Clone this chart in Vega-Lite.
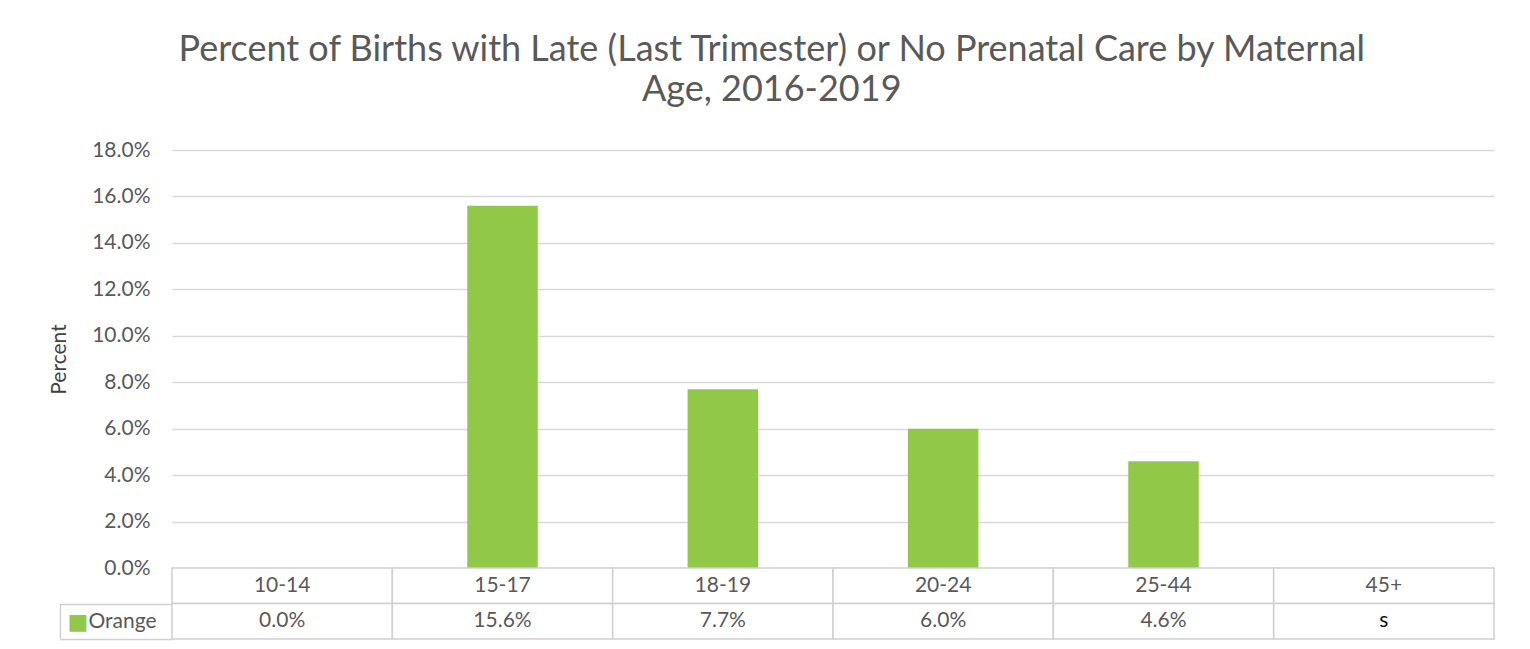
{
  "$schema": "https://vega.github.io/schema/vega-lite/v6.json",
  "padding": {"left": 48, "top": 32, "right": 36, "bottom": 8},
  "spacing": 0,
  "bounds": "flush",
  "background": "white",
  "title": {
    "text": ["Percent of Births with Late (Last Trimester) or No Prenatal Care by Maternal", "Age, 2016-2019"],
    "font": "Lato",
    "fontSize": 36,
    "fontWeight": "normal",
    "color": "#595959",
    "anchor": "middle",
    "frame": "bounds",
    "lineHeight": 40,
    "offset": 30
  },
  "datasets": {
    "ages": [
      {"age": "10-14", "pct": 0.0, "label": "0.0%"},
      {"age": "15-17", "pct": 0.156, "label": "15.6%"},
      {"age": "18-19", "pct": 0.077, "label": "7.7%"},
      {"age": "20-24", "pct": 0.060, "label": "6.0%"},
      {"age": "25-44", "pct": 0.046, "label": "4.6%"},
      {"age": "45+", "pct": null, "label": "s"}
    ]
  },
  "vconcat": [
    {
      "width": 1322,
      "height": 418,
      "data": {"name": "ages"},
      "mark": {"type": "bar", "color": "#92c848", "width": {"band": 0.32}},
      "encoding": {
        "x": {
          "field": "age", "type": "nominal", "sort": null,
          "scale": {"domain": ["10-14", "15-17", "18-19", "20-24", "25-44", "45+"], "paddingInner": 0, "paddingOuter": 0},
          "axis": null
        },
        "y": {
          "field": "pct", "type": "quantitative",
          "scale": {"domain": [0, 0.18], "nice": false},
          "axis": {
            "values": [0, 0.02, 0.04, 0.06, 0.08, 0.1, 0.12, 0.14, 0.16, 0.18],
            "format": ".1%",
            "title": "Percent",
            "titleFont": "Lato",
            "titleFontSize": 21,
            "titleFontWeight": "normal",
            "titleColor": "#404040",
            "titlePadding": 22,
            "labelFont": "Lato",
            "labelFontSize": 21,
            "labelColor": "#595959",
            "labelPadding": 22,
            "domain": false,
            "ticks": false,
            "grid": true,
            "gridColor": "#d9d9d9",
            "gridWidth": 1.5
          }
        }
      }
    },
    {
      "width": 1322,
      "height": 71,
      "data": {"name": "ages"},
      "transform": [{"fold": ["age", "label"], "as": ["row", "text"]}],
      "resolve": {"scale": {"y": "independent"}, "axis": {"y": "independent"}},
      "layer": [
        {
          "mark": {"type": "rect", "fill": "white", "stroke": "#d0d0d0", "strokeWidth": 1.5},
          "encoding": {
            "x": {
              "field": "age", "type": "nominal", "sort": null,
              "scale": {"domain": ["10-14", "15-17", "18-19", "20-24", "25-44", "45+"], "paddingInner": 0, "paddingOuter": 0},
              "axis": null
            },
            "y": {
              "field": "row", "type": "nominal", "sort": ["age", "label"],
              "scale": {"paddingInner": 0, "paddingOuter": 0},
              "axis": {
                "orient": "left",
                "title": null,
                "offset": 112,
                "domain": false,
                "ticks": true,
                "tickBand": "extent",
                "tickSize": -112,
                "tickWidth": 1.5,
                "tickColor": {"condition": {"test": "datum.extra", "value": "transparent"}, "value": "#d0d0d0"},
                "labelExpr": "datum.value === 'label' ? 'Orange' : ''",
                "labelAlign": "left",
                "labelPadding": 84,
                "labelFont": "Lato",
                "labelFontSize": 21,
                "labelColor": "#595959"
              }
            }
          }
        },
        {
          "mark": {"type": "text", "font": "Lato", "fontSize": 21},
          "encoding": {
            "x": {"field": "age", "type": "nominal", "sort": null},
            "y": {"field": "row", "type": "nominal", "sort": ["age", "label"], "axis": null},
            "text": {"field": "text"},
            "color": {"condition": {"test": "datum.text === 's'", "value": "#111111"}, "value": "#595959"},
            "fontWeight": {"condition": {"test": "datum.text === 's'", "value": "bold"}, "value": "normal"}
          }
        },
        {
          "transform": [{"filter": "datum.row === 'label'"}],
          "mark": {"type": "text", "opacity": 0},
          "encoding": {
            "x": {"field": "age", "type": "nominal", "sort": null},
            "y": {
              "field": "row", "type": "nominal",
              "scale": {"domain": ["label"], "range": [35.5, 71], "paddingInner": 0, "paddingOuter": 0},
              "axis": {
                "orient": "left",
                "title": null,
                "offset": 112,
                "domain": true,
                "domainColor": "#d0d0d0",
                "domainWidth": 1.5,
                "ticks": false,
                "labelExpr": "datum.value === 'label' ? '■' : ''",
                "labelAlign": "left",
                "labelPadding": -7,
                "labelFont": "DejaVu Sans",
                "labelFontSize": 22,
                "labelColor": "#92c848"
              }
            },
            "text": {"field": "text"}
          }
        }
      ]
    }
  ],
  "config": {"view": {"stroke": null}, "font": "Lato"}
}
